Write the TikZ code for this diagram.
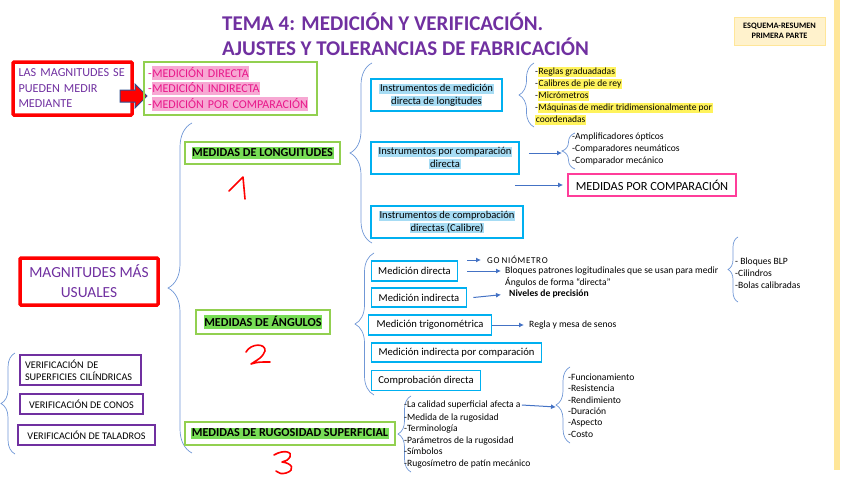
\documentclass[tikz,border=0pt]{standalone}
\usepackage{fontspec}
\setmainfont{Carlito}
\usetikzlibrary{arrows.meta,positioning,decorations.pathreplacing}

\definecolor{titlepurple}{HTML}{7030A0}
\definecolor{boxgreen}{HTML}{92D050}
\definecolor{boxcyan}{HTML}{00B0F0}
\definecolor{boxpink}{HTML}{FF3D9A}
\definecolor{hlgreen}{HTML}{77DD55}
\definecolor{hlblue}{HTML}{A6DCF4}
\definecolor{hlyellow}{HTML}{FFF35C}
\definecolor{hlpink}{HTML}{F7A8D3}
\definecolor{txtpink}{HTML}{E8178A}
\definecolor{bracecol}{HTML}{7097D6}
\definecolor{arrowcol}{HTML}{4472C4}
\definecolor{notecol}{HTML}{FFF2CC}
\definecolor{noteedge}{HTML}{FFE699}
\definecolor{navyedge}{HTML}{2F4F8F}

\newcommand{\hl}[2]{{\setlength{\fboxsep}{0.6pt}\colorbox{#1}{\vphantom{Hp}#2}}}

\begin{document}
\begin{tikzpicture}[x=1pt, y=-1pt,
    title/.style={anchor=west, inner sep=0pt, text=titlepurple, font=\fontsize{21}{23}\selectfont\bfseries},
    redbox/.style={draw=red, line width=3.5pt, rounded corners=1pt, text=titlepurple},
    grnbox/.style={draw=boxgreen, line width=2pt, font=\fontsize{12.2}{14}\selectfont\bfseries},
    cyanbox/.style={draw=boxcyan, line width=1.8pt, align=center, font=\fontsize{10.6}{12.5}\selectfont},
    purpbox/.style={draw=titlepurple, line width=1.8pt, font=\fontsize{10.2}{12}\selectfont},
    txt/.style={anchor=west, inner sep=1pt, align=left, font=\fontsize{9.6}{11.5}\selectfont},
    brc/.style={draw=bracecol, line width=0.7pt, decorate, decoration={brace, amplitude=#1}},
    arr/.style={-{Latex[length=5pt, width=5pt]}, draw=arrowcol, line width=1pt},
    num/.style={draw=red, line width=1.6pt, line cap=round, line join=round}
]
\useasboundingbox (0,0) rectangle (848,477);

% titulo
\node[title] (tit1) at (222,22) {TEMA 4: MEDICIÓN Y VERIFICACIÓN.};
\node[title] (tit2) at (222,47) {AJUSTES Y TOLERANCIAS DE FABRICACIÓN};
\node[fill=notecol, draw=noteedge, line width=1pt, minimum width=91pt, minimum height=28pt,
      align=center, font=\fontsize{8.3}{10}\selectfont\bfseries] (esq) at (779.5,31) {ESQUEMA-RESUMEN\\PRIMERA PARTE};
\fill[noteedge] (834,0) rectangle (840,470);

% magnitudes
\node[redbox, text width=108pt, inner xsep=5.5pt, minimum height=53pt, align=left,
      font=\fontsize{12.2}{15.5}\selectfont] (mag) at (72.5,88.5) {LAS MAGNITUDES SE\\PUEDEN MEDIR\\MEDIANTE};
\filldraw[fill=red, draw=navyedge, line width=1pt] (120,90) -- (135,90) -- (135,84) -- (147,96)
    -- (135,108) -- (135,102) -- (120,102) -- cycle;
\node[draw=boxgreen, line width=2pt, text width=165pt, inner xsep=4pt, minimum height=53pt, align=left,
      text=txtpink, font=\fontsize{12}{15.5}\selectfont] (mmed) at (230.5,88.5)
    {-\hl{hlpink}{MEDICIÓN DIRECTA}\\-\hl{hlpink}{MEDICIÓN INDIRECTA}\\-\hl{hlpink}{MEDICIÓN POR COMPARACIÓN}};

\node[redbox, minimum width=138pt, minimum height=47pt, align=center,
      font=\fontsize{15.4}{20}\selectfont] (usu) at (89,281.5) {MAGNITUDES MÁS\\USUALES};

% verificacion
\draw[brc=14pt] (15,454) -- (15,353);
\node[purpbox, text width=111pt, inner xsep=5pt, minimum height=30pt, align=left] (vsup) at (80.5,370)
    {VERIFICACIÓN DE\\SUPERFICIES CILÍNDRICAS};
\node[purpbox, minimum width=123pt, minimum height=20pt] (vcon) at (81.5,404) {VERIFICACIÓN DE CONOS};
\node[purpbox, minimum width=137pt, minimum height=20pt] (vtal) at (86.5,435) {VERIFICACIÓN DE TALADROS};

% medidas
\draw[brc=24pt] (192,453) -- (192,123);
\node[grnbox, minimum width=155pt, minimum height=22pt] (mlon) at (262.5,153) {\hl{hlgreen}{MEDIDAS DE LONGUITUDES}};
\node[grnbox, minimum width=134pt, minimum height=24pt] (mang) at (263,322) {\hl{hlgreen}{MEDIDAS DE ÁNGULOS}};
\node[grnbox, minimum width=210pt, minimum height=23pt] (mrug) at (290,433.5) {\hl{hlgreen}{MEDIDAS DE RUGOSIDAD SUPERFICIAL}};

% numeros a mano
\draw[num] (229,191) .. controls (236,184) .. (243,177) .. controls (244,188) .. (245,199);
\draw[num] (246,352) .. controls (251,343) and (266,343) .. (265,351) .. controls (262,357) .. (251,364)
    .. controls (258,362) .. (270,362);
\draw[num] (274,455) .. controls (284,449) and (293,452) .. (290,457) .. controls (288,460) .. (282,462)
    .. controls (292,463) and (296,470) .. (286,473) .. controls (281,474) .. (276,471);

% longitudes
\draw[brc=22pt] (372,243) -- (372,63);
\node[cyanbox, minimum width=131pt, minimum height=32pt] (ilon1) at (436.5,95)
    {\hl{hlblue}{Instrumentos de medición}\\\hl{hlblue}{directa de longitudes}};
\node[cyanbox, minimum width=148pt, minimum height=32pt] (ilon2) at (445,158)
    {\hl{hlblue}{Instrumentos por comparación}\\\hl{hlblue}{directa}};
\node[cyanbox, minimum width=152pt, minimum height=32pt] (ilon3) at (447,222)
    {\hl{hlblue}{Instrumentos de comprobación}\\\hl{hlblue}{directas (Calibre)}};

\draw[brc=15pt] (534,127) -- (534,63);
\node[txt, font=\fontsize{9.5}{12}\selectfont] (regl) at (534,96)
    {-\hl{hlyellow}{Reglas graduadadas}\\-\hl{hlyellow}{Calibres de pie de rey}\\-\hl{hlyellow}{Micrómetros}\\
     -\hl{hlyellow}{Máquinas de medir tridimensionalmente por}\\\hl{hlyellow}{coordenadas}};

\coordinate (amptip) at (562,153);
\draw[brc=13pt] (575,169) -- (575,133);
\node[txt, font=\fontsize{9.6}{12}\selectfont] (ampl) at (571,149)
    {-Amplificadores ópticos\\-Comparadores neumáticos\\-Comparador mecánico};
\draw[arr] ([xshift=9pt]ilon2.east |- amptip) -- (amptip);

\node[draw=boxpink, line width=1.8pt, minimum width=168pt, minimum height=22pt,
      font=\fontsize{12.4}{14}\selectfont] (mcmp) at (652,185) {MEDIDAS POR COMPARACIÓN};
\draw[arr, shorten >=4pt] ([xshift=-5pt]ilon2.east |- mcmp.west) -- (mcmp.west);

% angulos
\draw[brc=19pt] (374,395) -- (374,253);
\node[cyanbox, minimum width=86pt, minimum height=20pt] (adir) at (414.5,271) {Medición directa};
\node[cyanbox, minimum width=95pt, minimum height=19pt] (aind) at (419,297.5) {Medición indirecta};
\node[cyanbox, minimum width=123pt, minimum height=20pt] (atri) at (430,325) {Medición trigonométrica};
\node[cyanbox, minimum width=170pt, minimum height=19pt] (acmp) at (456.5,352.5) {Medición indirecta por comparación};
\node[cyanbox, minimum width=109pt, minimum height=20pt] (acdir) at (426,380.5) {Comprobación directa};

\node[txt, inner sep=0pt, font=\fontsize{9}{11}\selectfont] (gonio) at (487,260)
    {G\kern0.7pt O\kern2pt N\kern0.7pt I\kern0.7pt Ó\kern0.7pt M\kern0.7pt E\kern0.7pt T\kern0.7pt R\kern0.7pt O};
\node[txt, inner sep=0pt] (bloq) at (505,277) {Bloques patrones logitudinales que se usan para medir\\Ángulos de forma “directa”};
\node[txt, font=\fontsize{9.6}{11.5}\selectfont\bfseries] (niv) at (508,294) {Niveles de precisión};
\node[txt] (regla) at (528,325) {Regla y mesa de senos};
\draw[arr, shorten >=6pt] ([xshift=9pt]adir.east |- gonio.west) -- (gonio.west);
\draw[arr, shorten >=4pt] ([xshift=9pt]adir.east) -- (bloq.west |- adir.east);
\draw[arr, shorten >=7pt] ([xshift=6pt]aind.east) -- (niv.west);
\draw[arr, shorten >=4pt] (atri.east) -- (regla.west);

\draw[brc=10pt] (738,302) -- (738,237);
\node[txt, font=\fontsize{9.6}{12}\selectfont] (blp) at (734,273) {- Bloques BLP\\-Cilindros\\-Bolas calibradas};

% rugosidad
\draw[brc=13pt] (411,472) -- (411,396);
\node[txt] (calid) at (403,405) {-La calidad superficial afecta a};
\node[txt] (rugl) at (403,440.5)
    {-Medida de la rugosidad\\-Terminología\\-Parámetros de la rugosidad\\-Símbolos\\-Rugosímetro de patín mecánico};
\coordinate (funtip) at (556,407);
\draw[arr] (calid.east) -- (funtip);
\draw[brc=14pt] (570,443) -- (570,367);
\node[txt, font=\fontsize{9.6}{11.4}\selectfont] (func) at (567,405.5)
    {-Funcionamiento\\-Resistencia\\-Rendimiento\\-Duración\\-Aspecto\\-Costo};
\end{tikzpicture}
\end{document}
